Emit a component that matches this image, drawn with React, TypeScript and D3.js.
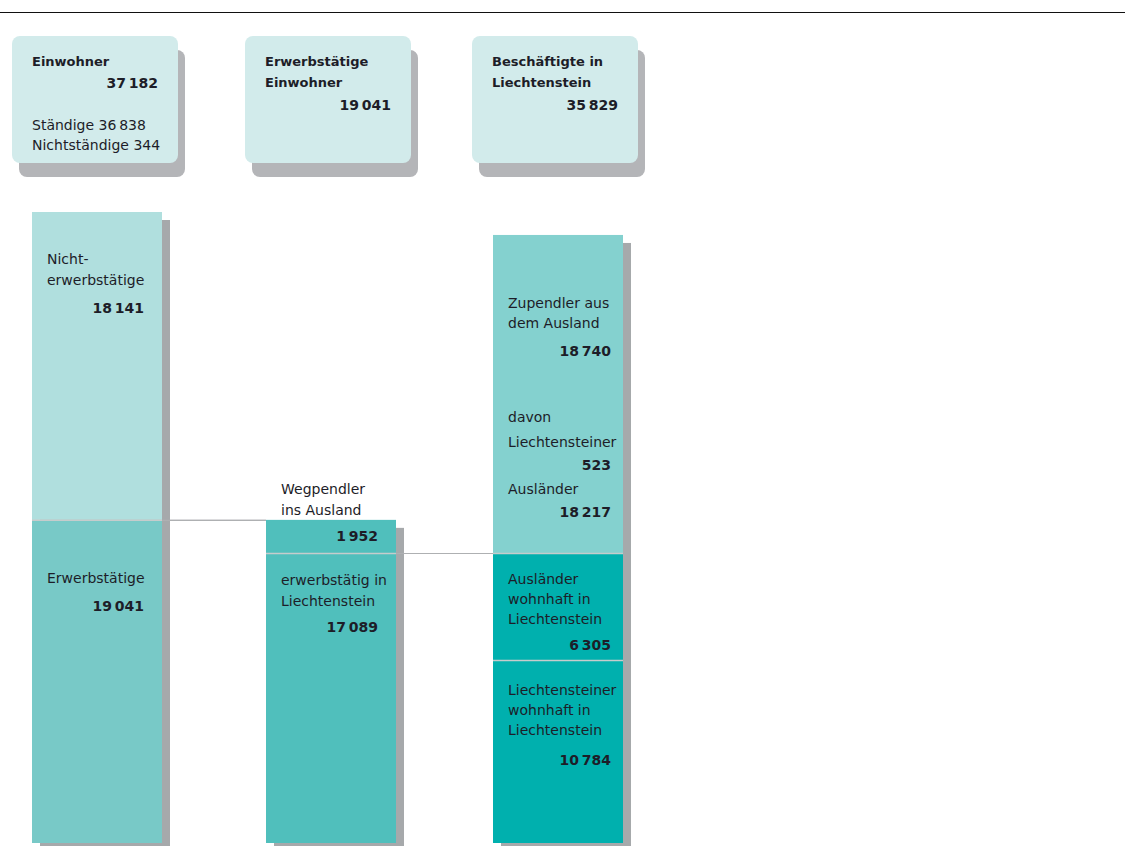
import React from "react";
import * as d3 from "d3";

// ---------- DATA ----------
const summaryTitles: string[][] = [
  ["Einwohner"],
  ["Erwerbstätige", "Einwohner"],
  ["Beschäftigte in", "Liechtenstein"],
];
const summaryValues: number[] = [37182, 19041, 35829];
const residentsPermanentLabel = "Ständige";
const residentsPermanent = 36838;
const residentsTemporaryLabel = "Nichtständige";
const residentsTemporary = 344;

// bar 1: residents
const residentsLabels: string[][] = [["Erwerbstätige"], ["Nicht-", "erwerbstätige"]];
const residentsValues: number[] = [19041, 18141];

// bar 2: employed residents
const employedLabels: string[][] = [["erwerbstätig in", "Liechtenstein"], ["Wegpendler", "ins Ausland"]];
const employedValues: number[] = [17089, 1952];

// bar 3: employed in Liechtenstein
const workplaceLabels: string[][] = [
  ["Liechtensteiner", "wohnhaft in", "Liechtenstein"],
  ["Ausländer", "wohnhaft in", "Liechtenstein"],
  ["Zupendler aus", "dem Ausland"],
];
const workplaceValues: number[] = [10784, 6305, 18740];
const commutersBreakdownLabels: string[] = ["Liechtensteiner", "Ausländer"];
const commutersBreakdownValues: number[] = [523, 18217];

// ---------- STYLE / LAYOUT ----------
const W = 1125;
const H = 846;
const FONT = "'DejaVu Sans', sans-serif";
const TEXT = "#1d1d28";
const BOX_FILL = "#d2ebeb";
const BOX_SHADOW = "#b4b5b8";
const BAR_SHADOW = "#a6a9ab";
const SEP = "#c6cccc";
const CONNECTOR = "#aeb0b2";

const boxX = [12, 245, 472];
const boxY = 36;
const boxW = 166;
const boxH = 127;

const barX = [32, 266, 493];
const barW = 130;
const shadowDX = 8;
const shadowDY = 8;

const residentsColors = ["#78c9c7", "#b0dfde"];
const employedColors = ["#50bfbc", "#50bfbc"];
const workplaceColors = ["#00b0ae", "#00b0ae", "#84d1cf"];

const fmtLocale = d3.formatLocale({ decimal: ",", thousands: "\u2009", grouping: [3], currency: ["", ""] });
const fmt = (v: number) => fmtLocale.format(",d")(v);

const y = d3.scaleLinear().domain([0, summaryValues[0]]).range([843, 212]);

type Seg = { value: number; y0: number; y1: number; color: string };
function stack(values: number[], colors: string[]): Seg[] {
  let acc = 0;
  return values.map((v, i) => {
    const s = { value: v, y0: y(acc), y1: y(acc + v), color: colors[i] };
    acc += v;
    return s;
  });
}

const Txt = (p: { x: number; y: number; t: string; bold?: boolean; anchor?: string; size?: number }) => (
  <text
    x={p.x}
    y={p.y}
    fill={TEXT}
    fontFamily={FONT}
    fontSize={p.size ?? 14}
    fontWeight={p.bold ? "bold" : "normal"}
    textAnchor={p.anchor ?? "start"}
  >
    {p.t}
  </text>
);

function Bar({ x, segs }: { x: number; segs: Seg[] }) {
  const top = segs[segs.length - 1].y1;
  const bottom = segs[0].y0;
  return (
    <g>
      <rect x={x + shadowDX} y={top + shadowDY} width={barW} height={bottom - top} fill={BAR_SHADOW} />
      {segs.map((s, i) => (
        <rect key={i} x={x} y={s.y1} width={barW} height={s.y0 - s.y1} fill={s.color} />
      ))}
      {segs.slice(0, -1).map((s, i) => (
        <line key={"l" + i} x1={x} x2={x + barW} y1={s.y1 + 0.5} y2={s.y1 + 0.5} stroke={SEP} strokeWidth={1.5} />
      ))}
    </g>
  );
}

export default function App() {
  const res = stack(residentsValues, residentsColors);
  const emp = stack(employedValues, employedColors);
  const wrk = stack(workplaceValues, workplaceColors);
  const lx = (i: number) => barX[i] + 15;
  const rx = (i: number) => barX[i] + 112;
  const rxBar3 = barX[2] + 118;

  return (
    <svg width={W} height={H} style={{ position: "absolute", left: 0, top: 0, background: "#fff" }}>
      <line x1={0} x2={W} y1={12.5} y2={12.5} stroke="#111" strokeWidth={1} />

      {/* summary boxes */}
      {summaryValues.map((v, i) => (
        <g key={i}>
          <rect x={boxX[i] + 7} y={boxY + 14} width={boxW} height={boxH} rx={8} fill={BOX_SHADOW} />
          <rect x={boxX[i]} y={boxY} width={boxW} height={boxH} rx={8} fill={BOX_FILL} />
          {summaryTitles[i].map((t, j) => (
            <Txt key={j} x={boxX[i] + 20} y={boxY + 30 + j * 21} t={t} bold size={13} />
          ))}
          <Txt
            x={boxX[i] + 146}
            y={boxY + 52 + (summaryTitles[i].length - 1) * 22}
            t={fmt(v)}
            bold
            anchor="end"
          />
        </g>
      ))}
      <Txt x={boxX[0] + 20} y={boxY + 94} t={`${residentsPermanentLabel} ${fmt(residentsPermanent)}`} />
      <Txt x={boxX[0] + 20} y={boxY + 114} t={`${residentsTemporaryLabel} ${fmt(residentsTemporary)}`} />

      {/* connectors */}
      <line x1={barX[0]} x2={barX[1]} y1={res[0].y1 + 0.5} y2={res[0].y1 + 0.5} stroke={CONNECTOR} strokeWidth={1.2} />
      <line x1={barX[1]} x2={barX[2]} y1={emp[0].y1 + 0.5} y2={emp[0].y1 + 0.5} stroke={CONNECTOR} strokeWidth={1.2} />

      <Bar x={barX[0]} segs={res} />
      <Bar x={barX[1]} segs={emp} />
      <Bar x={barX[2]} segs={wrk} />
      {/* redraw connector over shadows */}
      <line x1={barX[0] + barW} x2={barX[1]} y1={res[0].y1 + 0.5} y2={res[0].y1 + 0.5} stroke={CONNECTOR} strokeWidth={1.2} />
      <line x1={barX[1] + barW} x2={barX[2]} y1={emp[0].y1 + 0.5} y2={emp[0].y1 + 0.5} stroke={CONNECTOR} strokeWidth={1.2} />

      {/* bar 1 labels */}
      {residentsLabels[1].map((t, j) => (
        <Txt key={j} x={lx(0)} y={res[1].y1 + 52 + j * 21} t={t} />
      ))}
      <Txt x={rx(0)} y={res[1].y1 + 101} t={fmt(residentsValues[1])} bold anchor="end" />
      {residentsLabels[0].map((t, j) => (
        <Txt key={j} x={lx(0)} y={res[0].y1 + 63 + j * 21} t={t} />
      ))}
      <Txt x={rx(0)} y={res[0].y1 + 91} t={fmt(residentsValues[0])} bold anchor="end" />

      {/* bar 2 labels */}
      {employedLabels[1].map((t, j) => (
        <Txt key={j} x={lx(1)} y={emp[1].y1 - 26 + j * 21} t={t} />
      ))}
      <Txt x={rx(1)} y={emp[1].y1 + 21} t={fmt(employedValues[1])} bold anchor="end" />
      {employedLabels[0].map((t, j) => (
        <Txt key={j} x={lx(1)} y={emp[0].y1 + 32 + j * 21} t={t} />
      ))}
      <Txt x={rx(1)} y={emp[0].y1 + 79} t={fmt(employedValues[0])} bold anchor="end" />

      {/* bar 3 labels */}
      {workplaceLabels[2].map((t, j) => (
        <Txt key={j} x={lx(2)} y={wrk[2].y0 - 245 + j * 20} t={t} />
      ))}
      <Txt x={rxBar3} y={wrk[2].y0 - 197} t={fmt(workplaceValues[2])} bold anchor="end" />
      <Txt x={lx(2)} y={wrk[2].y0 - 131} t="davon" />
      <Txt x={lx(2)} y={wrk[2].y0 - 106} t={commutersBreakdownLabels[0]} />
      <Txt x={rxBar3} y={wrk[2].y0 - 83} t={fmt(commutersBreakdownValues[0])} bold anchor="end" />
      <Txt x={lx(2)} y={wrk[2].y0 - 59} t={commutersBreakdownLabels[1]} />
      <Txt x={rxBar3} y={wrk[2].y0 - 36} t={fmt(commutersBreakdownValues[1])} bold anchor="end" />

      {workplaceLabels[1].map((t, j) => (
        <Txt key={j} x={lx(2)} y={wrk[1].y1 + 31 + j * 20} t={t} />
      ))}
      <Txt x={rxBar3} y={wrk[1].y1 + 97} t={fmt(workplaceValues[1])} bold anchor="end" />
      {workplaceLabels[0].map((t, j) => (
        <Txt key={j} x={lx(2)} y={wrk[0].y1 + 35 + j * 20} t={t} />
      ))}
      <Txt x={rxBar3} y={wrk[0].y1 + 105} t={fmt(workplaceValues[0])} bold anchor="end" />
    </svg>
  );
}
